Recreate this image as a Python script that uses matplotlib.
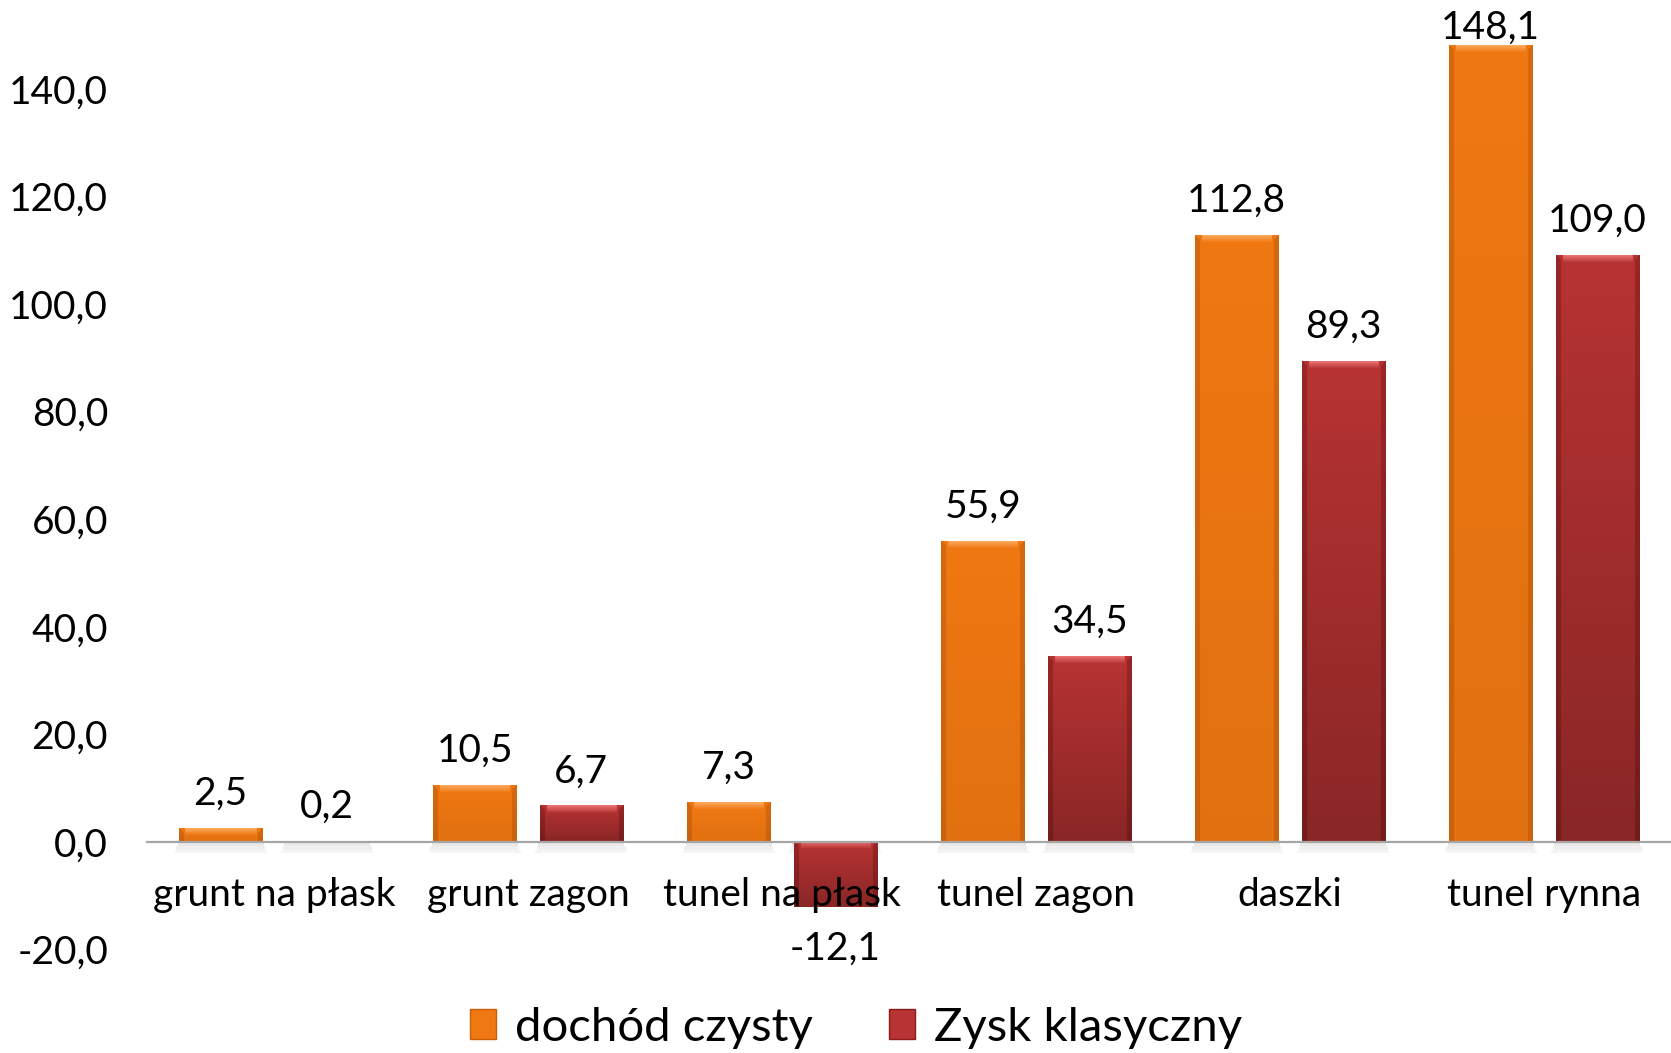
import matplotlib
matplotlib.use('Agg')
import matplotlib.pyplot as plt
from matplotlib.patches import Patch, Rectangle
import numpy as np

plt.rcParams['font.family'] = ['Lato', 'DejaVu Sans']

categories = ['grunt na płask', 'grunt zagon', 'tunel na płask', 'tunel zagon', 'daszki', 'tunel rynna']
dochod = [2.5, 10.5, 7.3, 55.9, 112.8, 148.1]
zysk = [0.2, 6.7, -12.1, 34.5, 89.3, 109.0]
series_names = ['dochód czysty', 'Zysk klasyczny']

orange = np.array([0.94, 0.47, 0.07])
red = np.array([0.72, 0.20, 0.20])


def fmt(v):
    return ('%.1f' % v).replace('.', ',')


def bevel(ax, rect, base, top_col, side_col, dark=0.15):
    x0, y0 = rect.get_x(), rect.get_y()
    w, h = rect.get_width(), rect.get_height()
    ylo, yhi = min(y0, y0 + h), max(y0, y0 + h)
    p = ax.transData.transform([(x0, ylo), (x0 + w, yhi)])
    nx = int(abs(p[1, 0] - p[0, 0]))
    ny = int(abs(p[1, 1] - p[0, 1]))
    if ny < 3:
        return
    img = np.ones((ny, nx, 3)) * base
    t = np.linspace(0, 1, ny)[:, None, None]
    img = img * (1 - dark * t)
    b = min(7, ny // 2)
    for r in range(ny):
        for c in range(nx):
            if r < b and b <= c < nx - b and c >= r and c <= nx - 1 - r:
                f = r / b
                img[r, c] = top_col * (1 - f) + base * f
            elif c < 5 or c >= nx - 5:
                if r >= min(c, nx - 1 - c) or r >= b:
                    img[r, c] = side_col * (1 - dark * r / ny)
    ax.imshow(img, extent=(x0, x0 + w, ylo, yhi), aspect='auto', origin='upper',
              zorder=3, interpolation='bilinear')


fig = plt.figure(figsize=(16.71, 10.53), dpi=100)
ax = fig.add_axes([147 / 1671, 103.4 / 1053, 1 - 147 / 1671, 1 - 103.4 / 1053])

x = np.arange(len(categories))
w = 0.327
off = 0.21
b1 = ax.bar(x - off, dochod, w, color=orange, zorder=2)
b2 = ax.bar(x + off, zysk, w, color=red, zorder=2)

ax.set_xlim(-0.5, len(categories) - 0.5)
ax.set_ylim(-20, 156.5)

# soft shadow under bars
for bars in (b1, b2):
    for r in bars:
        for k, a in enumerate((0.35, 0.25, 0.15)):
            ax.add_patch(Rectangle((r.get_x() - 0.006 * (k + 1), -0.7 * (k + 1)),
                                   r.get_width() + 0.012 * (k + 1), 0.7,
                                   color='#d8d8d8', alpha=a * 1.6, zorder=1, lw=0))

for r in b1:
    bevel(ax, r, orange, np.array([0.99, 0.66, 0.36]), np.array([0.84, 0.41, 0.05]), 0.06)
for r in b2:
    bevel(ax, r, red, np.array([0.92, 0.45, 0.45]), np.array([0.60, 0.15, 0.15]), 0.25)

ax.set_xlim(-0.5, len(categories) - 0.5)
ax.set_ylim(-20, 156.5)

for bars, vals in ((b1, dochod), (b2, zysk)):
    for r, v in zip(bars, vals):
        xc = r.get_x() + r.get_width() / 2
        if v >= 0:
            dy = 17 if v < 140 else 5
            ax.annotate(fmt(v), (xc, v), xytext=(0, dy), textcoords='offset points',
                        ha='center', va='baseline', fontsize=28, zorder=5)
        else:
            ax.annotate(fmt(v), (xc, v), xytext=(0, -38), textcoords='offset points',
                        ha='center', va='baseline', fontsize=28, zorder=5)

for s in ('top', 'right', 'left'):
    ax.spines[s].set_visible(False)
ax.spines['bottom'].set_position(('data', 0))
ax.spines['bottom'].set_color('#a6a6a6')
ax.spines['bottom'].set_linewidth(1.6)
ax.spines['bottom'].set_zorder(4)

yt = list(range(-20, 141, 20))
ax.set_yticks(yt)
ax.set_yticklabels([fmt(v) for v in yt], fontsize=28)
ax.set_xticks(x)
ax.set_xticklabels(categories, fontsize=28)
ax.tick_params(axis='y', length=0, pad=28)
ax.tick_params(axis='x', length=0, pad=25)
ax.xaxis.set_zorder(6)

handles = [Patch(facecolor=orange, edgecolor='#c85f08'), Patch(facecolor=red, edgecolor='#8a1c1c')]
fig.legend(handles, series_names, loc='center', bbox_to_anchor=(856 / 1671, 1 - 1028 / 1053),
           ncol=2, frameon=False, fontsize=34, handlelength=0.55, handleheight=0.6,
           handletextpad=0.4, columnspacing=1.6)

fig.savefig('out.png', dpi=100)
